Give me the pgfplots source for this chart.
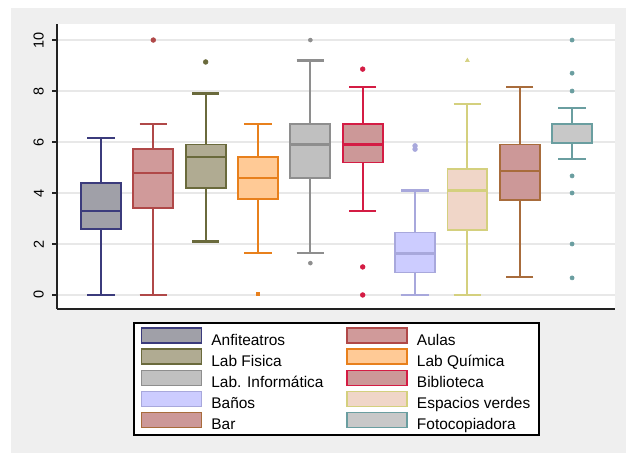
\documentclass[border=0pt]{standalone}
\usepackage{fontspec}
\setmainfont{Liberation Sans}
\usepackage{pgfplots}
\pgfplotsset{compat=1.18}
\usepgfplotslibrary{statistics}

\definecolor{bgframe}{HTML}{EFEFEF}
\definecolor{gridc}{HTML}{E8E8E8}
\definecolor{axisc}{HTML}{222222}
\definecolor{navyE}{HTML}{3B3B7C}\definecolor{navyF}{HTML}{A0A0A8}
\definecolor{marE}{HTML}{B04848}\definecolor{marF}{HTML}{D09A9A}
\definecolor{olvE}{HTML}{6A6A3C}\definecolor{olvF}{HTML}{B0AB92}
\definecolor{orgE}{HTML}{E8801C}\definecolor{orgF}{HTML}{FFCA96}
\definecolor{gryE}{HTML}{8E8E8E}\definecolor{gryF}{HTML}{C0C0C0}
\definecolor{crnE}{HTML}{D41C44}\definecolor{crnF}{HTML}{CC9898}
\definecolor{lavE}{HTML}{A8A8DC}\definecolor{lavF}{HTML}{CCCCFF}
\definecolor{khkE}{HTML}{D4D07E}\definecolor{khkF}{HTML}{F0D6C8}
\definecolor{sieE}{HTML}{A86C3C}\definecolor{sieF}{HTML}{CC9898}
\definecolor{tealE}{HTML}{6A9EA0}\definecolor{tealF}{HTML}{C8C8C8}

% one box: edge colour, fill colour
\pgfplotsset{
  bx/.style n args={2}{
    draw=#1, fill=#2, line width=1.8bp, solid,
    /pgfplots/boxplot/every whisker/.style={draw=#1, line width=2.2bp, solid},
    /pgfplots/boxplot/every median/.style={draw=#1, line width=2.2bp, solid},
    /pgfplots/boxplot/every box/.style={draw=#1, fill=#2, line width=1.8bp, solid},
    mark=*, mark size=2.4bp, mark options={draw=#1, fill=#1, line width=0.5bp},
    legend image code/.code={\draw[draw=#1, fill=#2, line width=1.6bp] (0bp,-3bp) rectangle (60bp,12bp);},
  },
}
\newcommand{\la}[1]{\makebox[130bp][l]{#1}}
\newcommand{\lb}[1]{\makebox[115bp][l]{#1}}

\begin{document}
\begin{tikzpicture}[x=1bp,y=1bp]
\useasboundingbox (0,0) rectangle (628,453);
\fill[bgframe] (11,0) rectangle (626,445);
\begin{axis}[
  at={(57bp,144bp)}, anchor=south west,
  scale only axis, width=558bp, height=285bp,
  xmin=0.16, xmax=10.82, ymin=-0.55, ymax=10.63,
  axis background/.style={fill=white},
  axis lines*=left,
  axis line style={axisc, line width=1.5bp},
  xtick=\empty,
  ytick={0,2,4,6,8,10},
  ymajorgrids, grid style={gridc, line width=1.2bp},
  tick align=outside, major tick length=5bp,
  tick style={axisc, line width=1.2bp},
  /pgf/number format/assume math mode=true,
  yticklabel style={rotate=90, anchor=south, inner sep=0pt,
    font=\fontsize{14.5}{16}\selectfont},
  yticklabel shift=8bp,
  boxplot/draw direction=y,
  boxplot/box extend=0.764,
  boxplot/whisker extend=0.52,
  legend columns=2,
  legend cell align=left,
  legend style={at={(0.136,-0.0456)}, anchor=north west,
    draw=black, line width=1.8bp, fill=white,
    inner xsep=7bp, inner ysep=4.5bp,
    font=\fontsize{15.5}{17}\selectfont,
    nodes={inner sep=0pt},
    row sep=1.9bp,
    /tikz/every odd column/.append style={column sep=9bp},
    /tikz/every even column/.append style={column sep=5bp}},
]
\addplot[bx={navyE}{navyF}, boxplot prepared={lower whisker=0, lower quartile=2.6, median=3.3, upper quartile=4.4, upper whisker=6.17, draw position=1}]
  coordinates {};
\addlegendentry{\la{Anfiteatros}}
\addplot[bx={marE}{marF}, boxplot prepared={lower whisker=0, lower quartile=3.4, median=4.8, upper quartile=5.72, upper whisker=6.7, draw position=2}]
  table[row sep=\\, y index=0] {10\\};
\addlegendentry{\lb{Aulas}}
\addplot[bx={olvE}{olvF}, boxplot prepared={lower whisker=2.1, lower quartile=4.2, median=5.4, upper quartile=5.9, upper whisker=7.9, draw position=3}]
  table[row sep=\\, y index=0] {9.14\\};
\addlegendentry{\la{Lab Fisica}}
\addplot[bx={orgE}{orgF}, mark=square*, mark size=1.7bp, boxplot prepared={lower whisker=1.65, lower quartile=3.76, median=4.6, upper quartile=5.4, upper whisker=6.7, draw position=4}]
  table[row sep=\\, y index=0] {0.04\\};
\addlegendentry{\lb{Lab Química}}
\addplot[bx={gryE}{gryF}, mark size=2bp, boxplot prepared={lower whisker=1.65, lower quartile=4.6, median=5.9, upper quartile=6.7, upper whisker=9.2, draw position=5}]
  table[row sep=\\, y index=0] {10\\1.25\\};
\addlegendentry{\la{Lab. Informática}}
\addplot[bx={crnE}{crnF}, boxplot prepared={lower whisker=3.3, lower quartile=5.2, median=5.9, upper quartile=6.7, upper whisker=8.15, draw position=6}]
  table[row sep=\\, y index=0] {8.86\\1.1\\0\\};
\addlegendentry{\lb{Biblioteca}}
\addplot[bx={lavE}{lavF}, boxplot prepared={lower whisker=0, lower quartile=0.88, median=1.63, upper quartile=2.45, upper whisker=4.1, draw position=7}]
  table[row sep=\\, y index=0] {5.72\\5.85\\};
\addlegendentry{\la{Baños}}
\addplot[bx={khkE}{khkF}, mark=triangle*, mark size=2.2bp, boxplot prepared={lower whisker=0, lower quartile=2.55, median=4.1, upper quartile=4.94, upper whisker=7.5, draw position=8}]
  table[row sep=\\, y index=0] {9.2\\};
\addlegendentry{\lb{Espacios verdes}}
\addplot[bx={sieE}{sieF}, boxplot prepared={lower whisker=0.7, lower quartile=3.73, median=4.87, upper quartile=5.9, upper whisker=8.15, draw position=9}]
  coordinates {};
\addlegendentry{\la{Bar}}
\addplot[bx={tealE}{tealF}, mark size=2.1bp, boxplot prepared={lower whisker=5.33, lower quartile=5.95, median=5.95, upper quartile=6.7, upper whisker=7.35, draw position=10}]
  table[row sep=\\, y index=0] {10\\8.7\\8.0\\4.67\\4.0\\2.0\\0.67\\};
\addlegendentry{\lb{Fotocopiadora}}
\end{axis}
\end{tikzpicture}
\end{document}
